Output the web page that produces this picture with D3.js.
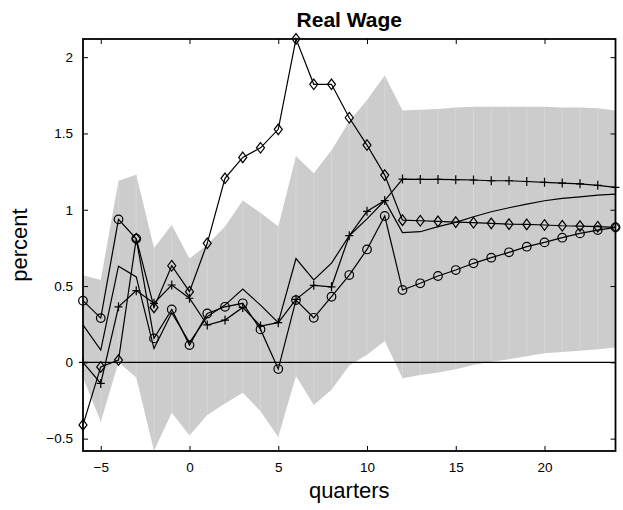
<html>
  <head>
    <title>Real Wage</title>
    <script src="https://cdn.jsdelivr.net/npm/d3@7/dist/d3.min.js" charset="utf-8"></script>
    <style>
      body { margin: 0; background: #fff; }
      text { font-family: "Liberation Sans", Arial, Helvetica, sans-serif; }
    </style>
  </head>
  <body>
    <div id="main"></div>
  <script>
    // horizon in quarters
    var quarters = [-6, -5, -4, -3, -2, -1, 0, 1, 2, 3, 4, 5, 6, 7, 8, 9, 10, 11, 12,
                    13, 14, 15, 16, 17, 18, 19, 20, 21, 22, 23, 24];

    // confidence band
    var bandUpper = [0.57, 0.54, 1.19, 1.23, 0.75, 0.90, 0.68, 0.77, 0.89, 1.06, 0.98, 0.89, 1.35,
                     1.24, 1.39, 1.58, 1.72, 1.88, 1.65, 1.655, 1.66, 1.67, 1.675, 1.675, 1.675,
                     1.675, 1.675, 1.67, 1.67, 1.665, 1.65];
    var bandLower = [-0.10, -0.39, 0.0, -0.10, -0.58, -0.33, -0.48, -0.345, -0.27, -0.20, -0.32,
                     -0.49, -0.09, -0.28, -0.18, -0.02, 0.05, 0.14, -0.105, -0.083, -0.066,
                     -0.046, -0.018, 0.004, 0.02, 0.04, 0.06, 0.068, 0.076, 0.085, 0.098];

    // plain line
    var median = [0.245, 0.08, 0.63, 0.56, 0.09, 0.325, 0.13, 0.30, 0.375, 0.48, 0.375, 0.26, 0.68,
                  0.54, 0.65, 0.83, 0.94, 1.06, 0.85, 0.856, 0.889, 0.917, 0.954, 0.987, 1.013,
                  1.037, 1.059, 1.075, 1.085, 1.096, 1.103];
    // line with circles
    var circleSeries = [0.404, 0.29, 0.937, 0.81, 0.157, 0.347, 0.113, 0.32, 0.364, 0.387, 0.216,
                        -0.044, 0.408, 0.292, 0.43, 0.572, 0.74, 0.959, 0.474, 0.518, 0.566, 0.605,
                        0.649, 0.686, 0.721, 0.758, 0.786, 0.817, 0.845, 0.867, 0.885];
    // line with plus signs
    var plusSeries = [0.0, -0.138, 0.364, 0.47, 0.387, 0.507, 0.42, 0.245, 0.277, 0.36, 0.238,
                      0.26, 0.413, 0.505, 0.495, 0.83, 0.99, 1.06, 1.201, 1.199, 1.199, 1.197,
                      1.195, 1.19, 1.19, 1.185, 1.18, 1.175, 1.17, 1.16, 1.147];
    // line with diamonds
    var diamondSeries = [-0.41, -0.03, 0.015, 0.81, 0.36, 0.633, 0.463, 0.78, 1.206, 1.343, 1.406,
                         1.527, 2.12, 1.822, 1.822, 1.603, 1.424, 1.227, 0.932, 0.928, 0.924,
                         0.919, 0.915, 0.911, 0.906, 0.904, 0.9, 0.895, 0.893, 0.889, 0.885];

    var xTicks = [-5, 0, 5, 10, 15, 20];
    var yTicks = [-0.5, 0, 0.5, 1, 1.5, 2];

    var svgWidth = 623;
    var svgHeight = 510;
    var plotLeft = 83, plotRight = 615.5, plotTop = 39, plotBottom = 451;

    var svg = d3.select('#main')
      .append('svg')
      .attr('width', svgWidth)
      .attr('height', svgHeight);

    var x = d3.scaleLinear().domain([-6, 24]).range([plotLeft, plotRight]);
    var y = d3.scaleLinear().domain([-0.581, 2.119]).range([plotBottom, plotTop]);

    var rows = quarters.map(function(q, i) {
      return { q: q, lo: bandLower[i], hi: bandUpper[i] };
    });

    // shaded band
    var area = d3.area()
      .x(function(d) { return x(d.q); })
      .y0(function(d) { return y(d.lo); })
      .y1(function(d) { return y(d.hi); });
    svg.append('path')
      .datum(rows)
      .attr('d', area)
      .attr('fill', '#cccccc');

    // faint seams between the patch pieces
    svg.selectAll('line.seam')
      .data(rows.slice(1, -1))
      .enter()
      .append('line')
      .attr('class', 'seam')
      .attr('x1', function(d) { return x(d.q); })
      .attr('x2', function(d) { return x(d.q); })
      .attr('y1', function(d) { return y(d.lo); })
      .attr('y2', function(d) { return y(d.hi); })
      .attr('stroke', '#d8d8d8')
      .attr('stroke-width', 0.8);

    // zero line
    svg.append('line')
      .attr('x1', plotLeft).attr('x2', plotRight)
      .attr('y1', y(0)).attr('y2', y(0))
      .attr('stroke', '#000')
      .attr('stroke-width', 1.2);

    var line = d3.line()
      .x(function(d, i) { return x(quarters[i]); })
      .y(function(d) { return y(d); });

    [median, circleSeries, plusSeries, diamondSeries].forEach(function(s) {
      svg.append('path')
        .attr('d', line(s))
        .attr('fill', 'none')
        .attr('stroke', '#000')
        .attr('stroke-width', 1.2);
    });

    // markers
    svg.selectAll('circle.mk')
      .data(circleSeries)
      .enter()
      .append('circle')
      .attr('class', 'mk')
      .attr('cx', function(d, i) { return x(quarters[i]); })
      .attr('cy', function(d) { return y(d); })
      .attr('r', 4.3)
      .attr('fill', 'none')
      .attr('stroke', '#000')
      .attr('stroke-width', 1.2);

    svg.selectAll('path.plus')
      .data(plusSeries)
      .enter()
      .append('path')
      .attr('class', 'plus')
      .attr('transform', function(d, i) { return 'translate(' + x(quarters[i]) + ',' + y(d) + ')'; })
      .attr('d', 'M-4,0H4M0,-4.5V4.5')
      .attr('stroke', '#000')
      .attr('stroke-width', 1.2);

    svg.selectAll('path.diam')
      .data(diamondSeries)
      .enter()
      .append('path')
      .attr('class', 'diam')
      .attr('transform', function(d, i) { return 'translate(' + x(quarters[i]) + ',' + y(d) + ')'; })
      .attr('d', 'M0,-5.3L4,0L0,5.3L-4,0Z')
      .attr('fill', 'none')
      .attr('stroke', '#000')
      .attr('stroke-width', 1.2);

    // box and ticks (inward, mirrored)
    var fmt = d3.format('~g');
    svg.append('g')
      .attr('transform', 'translate(0,' + plotBottom + ')')
      .call(d3.axisBottom(x).tickValues(xTicks).tickSizeInner(-5).tickSizeOuter(0).tickPadding(11).tickFormat(fmt));
    svg.append('g')
      .attr('transform', 'translate(0,' + plotTop + ')')
      .call(d3.axisTop(x).tickValues(xTicks).tickSizeInner(-5).tickSizeOuter(0).tickFormat(''));
    svg.append('g')
      .attr('transform', 'translate(' + plotLeft + ',0)')
      .call(d3.axisLeft(y).tickValues(yTicks).tickSizeInner(-5).tickSizeOuter(0).tickPadding(10).tickFormat(fmt));
    svg.append('g')
      .attr('transform', 'translate(' + plotRight + ',0)')
      .call(d3.axisRight(y).tickValues(yTicks).tickSizeInner(-5).tickSizeOuter(0).tickFormat(''));

    svg.selectAll('.domain').remove();
    svg.selectAll('.tick line').attr('stroke', '#000').attr('stroke-width', 1);
    svg.selectAll('.tick text')
      .attr('fill', '#000')
      .style('font-size', '13.5px')
      .style('font-family', '"Liberation Sans", Arial, sans-serif');

    svg.append('rect')
      .attr('x', plotLeft).attr('y', plotTop)
      .attr('width', plotRight - plotLeft).attr('height', plotBottom - plotTop)
      .attr('fill', 'none')
      .attr('stroke', '#000')
      .attr('stroke-width', 1.8);

    // labels
    svg.append('text')
      .attr('x', (plotLeft + plotRight) / 2)
      .attr('y', 27)
      .attr('text-anchor', 'middle')
      .style('font-size', '21px')
      .style('font-weight', 'bold')
      .text('Real Wage');

    svg.append('text')
      .attr('x', (plotLeft + plotRight) / 2)
      .attr('y', 498)
      .attr('text-anchor', 'middle')
      .style('font-size', '22px')
      .text('quarters');

    svg.append('text')
      .attr('transform', 'translate(27,' + ((plotTop + plotBottom) / 2) + ') rotate(-90)')
      .attr('text-anchor', 'middle')
      .style('font-size', '22px')
      .text('percent');
  </script>
  </body>
</html>
